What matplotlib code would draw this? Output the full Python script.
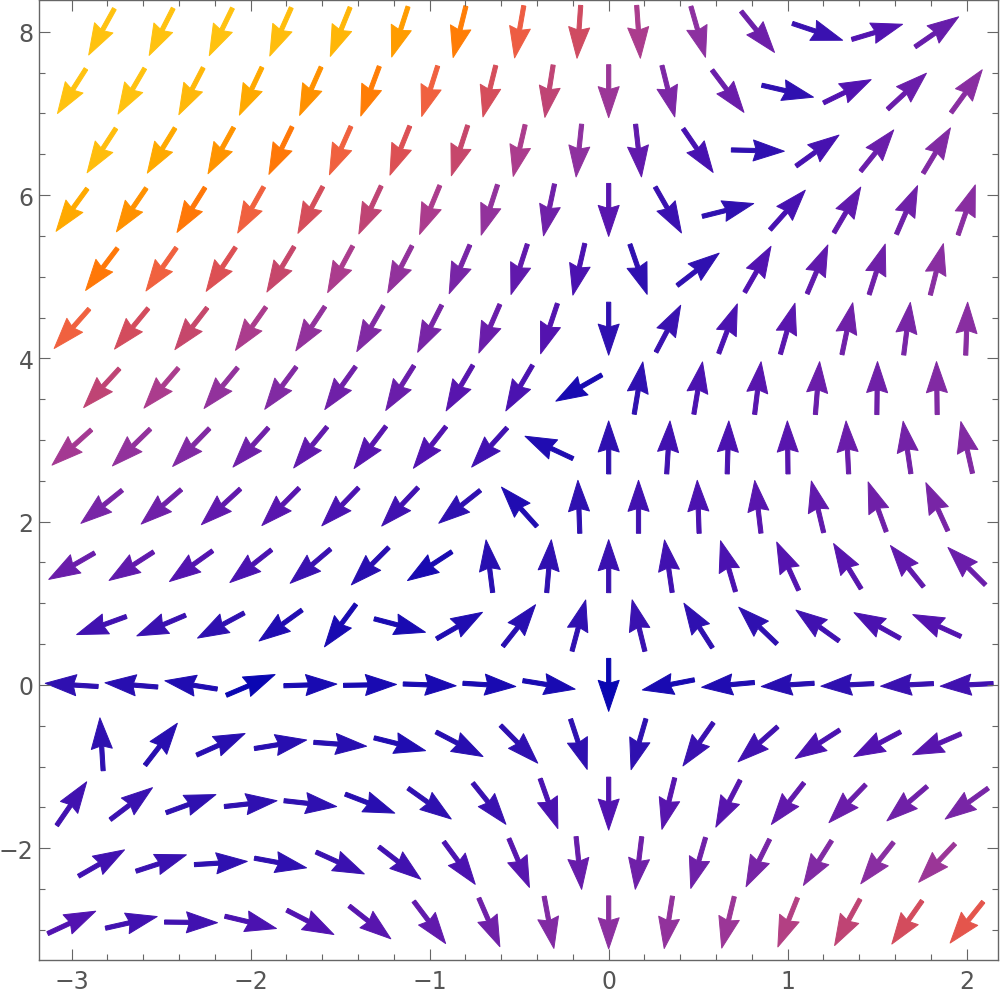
import numpy as np
import matplotlib
matplotlib.use('Agg')
import matplotlib.pyplot as plt
from matplotlib.colors import LinearSegmentedColormap
from matplotlib.ticker import MultipleLocator

# Sample grid: rows from y=8 down, staggered columns
y_rows = [8 - k * 8 / 11 for k in range(16)]
x_even = [(j - 8.5) / 3 for j in range(15)]
x_odd = [(j - 9) / 3 for j in range(16)]

# Arrow directions (degrees, on screen, counter-clockwise from +x), read per row
angles = [
    [241, 243, 244, 246, 248, 252, 256, 260, 266, 274, 286, 309, 341.5, 16.6, 34.6],
    [237.5, 239.7, 242.6, 244.7, 246, 249.5, 252.4, 256, 261, 270, 284, 307, 347, 26, 42.8, 54],
    [237, 238.4, 241, 244, 246, 248, 252, 257, 264, 276.4, 304.4, 358.6, 35.8, 51.3, 59],
    [233.9, 235.7, 238, 240.6, 242, 245, 247.5, 252, 258, 270, 299.7, 14, 48.3, 59.6, 66.5, 71],
    [233, 234.9, 236.3, 239, 241.7, 242.6, 247, 252, 257, 289, 37.6, 60.2, 67, 72.3, 75.7],
    [228.5, 230.5, 232.4, 234.9, 236.7, 240, 243, 246.6, 251.5, 270, 62.2, 69.4, 74, 78.2, 82.8, 87.9],
    [227.5, 229.4, 230.6, 233.4, 234.4, 237.8, 239.6, 239.7, 209.7, 80.6, 80.6, 83, 85.4, 89.3, 90.7],
    [222, 224.3, 226, 228, 230.9, 233, 232, 228, 155, 90, 86.4, 88.2, 90.7, 92.8, 98.4, 102.7],
    [218.8, 220.8, 222.6, 225.2, 226, 226.7, 218.4, 132, 92, 90, 92, 96.7, 103.4, 110, 114.5],
    [210, 212.7, 215.5, 218.2, 220.3, 225, 213, 97.2, 85, 90, 98.3, 106.4, 114.5, 121.3, 128.8, 135],
    [200, 203, 208.3, 215.8, 233.6, 345.3, 30, 51.8, 75, 103.9, 122.6, 136.2, 144.4, 150.9, 155.5],
    [176.5, 175.4, 171, 23, 1.8, 1, 358, 356.5, 350.8, 270, 191, 185.2, 183.5, 182.8, 182.8, 182.8],
    [93.5, 52.4, 24, 9.3, 355.8, 346, 332.4, 314.5, 288.3, 253.7, 234.9, 221.5, 212.7, 208, 203.4],
    [55.5, 37.1, 20, 6.3, 353.7, 339, 324.5, 308.7, 289.5, 270, 256, 242.6, 231.9, 226, 220.6, 215.7],
    [29.8, 18, 3.5, 349.5, 335.6, 322.3, 306.4, 292.8, 276, 263, 253.8, 243.6, 237.8, 231.7, 226.7],
    [25, 12.7, 359.3, 346.6, 332.7, 321.7, 307, 293.4, 280.6, 270, 261, 256.3, 248.2, 241.2, 235, 231.3],
]

levels = [
    [1.0, 1.0, 1.0, 0.98, 0.95, 0.87, 0.79, 0.71, 0.62, 0.5, 0.4, 0.29, 0.13, 0.2, 0.27],
    [1.0, 1.0, 0.96, 0.9, 0.84, 0.79, 0.72, 0.64, 0.57, 0.45, 0.34, 0.28, 0.1, 0.2, 0.28, 0.39],
    [0.98, 0.9, 0.85, 0.78, 0.72, 0.66, 0.59, 0.5, 0.41, 0.25, 0.17, 0.1, 0.17, 0.28, 0.36],
    [0.9, 0.84, 0.78, 0.72, 0.64, 0.57, 0.5, 0.42, 0.3, 0.22, 0.13, 0.1, 0.17, 0.25, 0.3, 0.39],
    [0.78, 0.72, 0.66, 0.59, 0.5, 0.42, 0.33, 0.25, 0.18, 0.1, 0.1, 0.2, 0.25, 0.3, 0.39],
    [0.72, 0.63, 0.59, 0.5, 0.42, 0.36, 0.33, 0.28, 0.21, 0.1, 0.13, 0.18, 0.23, 0.3, 0.33, 0.39],
    [0.57, 0.5, 0.42, 0.36, 0.3, 0.28, 0.22, 0.18, 0.04, 0.1, 0.18, 0.22, 0.28, 0.3, 0.36],
    [0.48, 0.42, 0.36, 0.3, 0.25, 0.22, 0.2, 0.15, 0.06, 0.1, 0.15, 0.18, 0.22, 0.28, 0.31, 0.36],
    [0.33, 0.3, 0.25, 0.22, 0.18, 0.15, 0.1, 0.06, 0.1, 0.15, 0.18, 0.22, 0.25, 0.3, 0.33],
    [0.28, 0.25, 0.21, 0.18, 0.13, 0.08, 0.04, 0.08, 0.1, 0.13, 0.15, 0.18, 0.21, 0.22, 0.25, 0.28],
    [0.15, 0.13, 0.1, 0.06, 0.04, 0.04, 0.06, 0.08, 0.1, 0.13, 0.1, 0.1, 0.15, 0.18, 0.21],
    [0.1, 0.08, 0.06, 0.0, 0.04, 0.04, 0.04, 0.04, 0.04, 0.0, 0.04, 0.06, 0.08, 0.1, 0.13, 0.15],
    [0.1, 0.08, 0.08, 0.08, 0.08, 0.06, 0.08, 0.1, 0.1, 0.1, 0.13, 0.15, 0.18, 0.2, 0.22],
    [0.15, 0.13, 0.1, 0.1, 0.1, 0.08, 0.1, 0.13, 0.18, 0.2, 0.22, 0.22, 0.25, 0.28, 0.3, 0.33],
    [0.15, 0.13, 0.1, 0.1, 0.13, 0.15, 0.18, 0.22, 0.27, 0.3, 0.3, 0.33, 0.36, 0.39, 0.45],
    [0.2, 0.15, 0.15, 0.18, 0.2, 0.22, 0.25, 0.3, 0.36, 0.4, 0.42, 0.45, 0.53, 0.57, 0.63, 0.68],
]

# colour scale similar to the Mathematica default for vector plots
cmap = LinearSegmentedColormap.from_list('vec', [
    (0.0, '#0a06b2'), (0.1, '#3010b0'), (0.2, '#5212b0'), (0.3, '#7020a8'),
    (0.4, '#8c30a0'), (0.5, '#aa3c8e'), (0.6, '#c84868'), (0.67, '#e05250'),
    (0.72, '#f06040'), (0.78, '#ff7808'), (0.84, '#ff9000'), (0.9, '#ffa800'),
    (1.0, '#ffc210'),
])

X, Y, A, C = [], [], [], []
for k, row in enumerate(angles):
    xs = x_even if k % 2 == 0 else x_odd
    for x, a, c in zip(xs, row, levels[k]):
        X.append(x)
        Y.append(y_rows[k])
        A.append(a)
        C.append(c)
A = np.radians(A)
U, V = np.cos(A), np.sin(A)

fig = plt.figure(figsize=(10, 10.03), dpi=100)
ax = fig.add_axes([0.0393, 0.0422, 0.9587, 0.9568])

# arrows about 54 px long with a wide triangular head
ax.quiver(X, Y, U, V, C, cmap=cmap, clim=(0, 1), angles='uv', pivot='middle',
          scale_units='dots', scale=1 / 53, units='dots', width=4.2,
          headwidth=5.0, headlength=7.4, headaxislength=6.8,
          edgecolor='face', linewidth=0.7)

ax.set_xlim(-3.181, 2.175)
ax.set_ylim(-3.366, 8.39)

grey = '#666666'
for s in ax.spines.values():
    s.set_color(grey)
    s.set_linewidth(1.0)
ax.xaxis.set_major_locator(MultipleLocator(1))
ax.xaxis.set_minor_locator(MultipleLocator(0.2))
ax.yaxis.set_major_locator(MultipleLocator(2))
ax.yaxis.set_minor_locator(MultipleLocator(0.5))
ax.tick_params(which='both', direction='in', top=True, right=True, color=grey,
               width=0.8, labelcolor='#555555', labelsize=17)
ax.tick_params(which='major', length=8)
ax.tick_params(which='minor', length=4.3)
ax.tick_params(axis='x', pad=7)
ax.tick_params(axis='y', pad=4)

fig.savefig('out.png', dpi=100)
